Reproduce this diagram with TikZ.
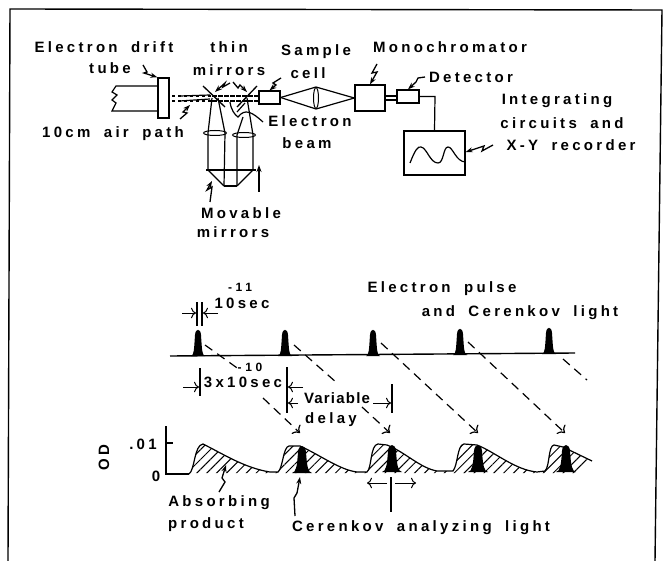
\documentclass[tikz,border=0pt]{standalone}
\usepackage{fontspec}
\setmainfont[LetterSpace=22,WordSpace=1.8]{Liberation Sans}
\usetikzlibrary{patterns.meta,arrows.meta,shapes.geometric}
\tikzset{
    lbl/.style={inner sep=0pt, font=\bfseries\fontsize{15}{15}\selectfont},
    smalllbl/.style={inner sep=0pt, font=\bfseries\fontsize{12}{12}\selectfont\addfontfeature{LetterSpace=30}},
    part/.style={draw, line width=1.3pt, rectangle, inner sep=0pt},
    wire/.style={line width=1.2pt},
    bolt/.style={line width=1.3pt, -{Stealth[length=7pt,width=5pt]}},
    dim/.style={line width=1pt, -{To[length=5pt]}},
    probe/.style={line width=1.2pt, dash pattern=on 9pt off 6pt},
    probetip/.style={probe, -{To[length=6pt]}},
    lens/.style={draw, line width=1pt, ellipse, inner sep=0pt},
    pulse/.pic={\fill (-7,0) .. controls (-4,-1) and (-4,-6) .. (-3,-21) .. controls (-2.5,-28) and (2.5,-28) .. (3,-21) .. controls (4,-6) and (4,-1) .. (7,0) -- cycle;},
    lowpulse/.pic={\fill (-10,0) .. controls (-6,-1) and (-5,-6) .. (-4,-21) .. controls (-3.5,-29) and (3.5,-29) .. (4,-21) .. controls (5,-6) and (6,-1) .. (10,0) -- cycle;}
}
\begin{document}
\begin{tikzpicture}[x=1pt, y=-1pt]
        \useasboundingbox (0,0) rectangle (663,561);
        \draw[line width=1.4pt] (8,561) -- (10,9) -- (662,10) -- (655,561);
        % apparatus
        \node[part, minimum width=11pt, minimum height=40pt] (tube) at (163.5,98) {};
        \node[part, minimum width=21pt, minimum height=13pt] (cell) at (269.5,97.5) {};
        \node[part, minimum width=30pt, minimum height=26pt] (mono) at (370,98) {};
        \node[part, minimum width=22pt, minimum height=13pt] (det) at (408,96.5) {};
        \node[part, minimum width=61pt, minimum height=44pt] (recorder) at (434.5,153) {};
        \node[lens, minimum width=5pt, minimum height=21pt] (celllens) at (316,98) {};
        \node[lens, minimum width=23pt, minimum height=5pt] (leftlens) at (215,133) {};
        \node[lens, minimum width=23pt, minimum height=5pt] (rightlens) at (244,135) {};
        \draw[wire] (tube.west |- 0,86) -- (116,86) -- (112,92) -- (117,95) -- (112,100) -- (116,103) -- (112,111) -- (tube.west |- 0,111);
        \draw[wire, dashed] (172,96) -- (cell.west |- 0,96);
        \draw[wire, dashed] (172,101) -- (cell.west |- 0,101);
        \draw[wire] (180,96) -- (210,95);
        \draw[wire] (180,101) -- (210,99);
        % thin mirrors
        \draw[line width=1.3pt] (203,86) -- (225,107);
        \draw[line width=1.3pt] (257,86) -- (237,107);
        % light through the cell
        \draw[wire] (cell.east) -- (celllens.north) -- (mono.west);
        \draw[wire] (cell.east) -- (celllens.south) -- (mono.west);
        \draw[wire] (mono.east |- 0,96) -- (det.west |- 0,96);
        \draw[wire] (mono.east |- 0,100) -- (det.west |- 0,100);
        \draw[wire] (det.east) -- (435,96.5) -- (recorder.north);
        \draw[wire] (410,163) .. controls (415,150) and (418,146) .. (421,147) .. controls (427,148) and (430,163) .. (438,163) .. controls (444,163) and (443,147) .. (448,147) .. controls (453,147) and (456,162) .. (recorder.east |- 0,162);
        % movable mirrors and beams
        \draw[wire] (212,98) -- (208,133) -- (208,170) -- (224,186);
        \draw[wire] (218,98) -- (225,133) -- (224,186);
        \draw[wire] (243,117) -- (237,135) -- (237,186);
        \draw[wire] (247,98) -- (253,135) -- (253,170) -- (237,186);
        \draw[wire] (206,170) -- (256,170);
        \draw[wire] (224,186) -- (237,186);
        \draw[wire] (230,102) .. controls (231,110) and (235,115) .. (238,117) .. controls (245,108) and (252,112) .. (263,122);
        \draw[wire] (245,103) -- (237,112);
        \draw[bolt] (259,192) -- (259,165);
        \draw[wire, dashed] (212,96) -- (256,96);
        \draw[wire, dashed] (212,101) -- (256,101);
        % labels of the apparatus
        \node[lbl] (tubelbl) at (104,47) {Electron drift};
        \node[lbl] (tubelbl2) at (110,68) {tube};
        \node[lbl] (pathlbl) at (113,134) {10cm air path};
        \node[lbl] (thinlbl) at (229,47) {thin};
        \node[lbl] (thinlbl2) at (229,70) {mirrors};
        \node[lbl] (celllbl) at (316,52) {Sample};
        \node[lbl] (celllbl2) at (308,73) {cell};
        \node[lbl] (monolbl) at (450,47) {Monochromator};
        \node[lbl] (detlbl) at (471,77) {Detector};
        \node[lbl] (reclbl) at (557,101) {Integrating};
        \node[lbl] (reclbl2) at (562,123) {circuits and};
        \node[lbl] (reclbl3) at (571,145) {X-Y recorder};
        \node[lbl] (beamlbl) at (310,121) {Electron};
        \node[lbl] (beamlbl2) at (307,143) {beam};
        \node[lbl] (movelbl) at (241,213) {Movable};
        \node[lbl] (movelbl2) at (233,232) {mirrors};
        % wavy pointers
        \draw[bolt] (143,65) -- (147,72) -- (144,73) -- (tube.north west);
        \draw[bolt] (180,119) -- (187,113) -- (183,112) -- (190,105);
        \draw[bolt] (230,83) -- (223,87) -- (225,83) -- (215,92);
        \draw[bolt] (233,82) -- (238,88) -- (240,85) -- (247,92);
        \draw[bolt] (281,78) -- (273,83) -- (276,85) -- (cell.north);
        \draw[bolt] (377,64) -- (372,73) -- (377,72) -- (mono.north);
        \draw[bolt] (425,77) -- (418,78) -- (416,82) -- (det.north);
        \draw[bolt] (493,145) -- (482,151) -- (484,146) -- (recorder.east |- 0,152);
        \draw[bolt] (210,202) -- (212,187) -- (207,190) -- (212,181);
        % electron pulses
        \draw[line width=1.4pt] (170,356) -- (575,353);
        \pic at (198,356) {pulse};
        \pic at (285,356) {pulse};
        \pic at (373,356) {pulse};
        \pic at (460,355) {pulse};
        \pic at (549,354) {pulse};
        \draw[wire] (197,302) -- (197,326);
        \draw[wire] (202,302) -- (202,326);
        \draw[dim] (182,313) -- (196,313);
        \draw[dim] (218,313) -- (203,313);
        \node[lbl] (widthlbl) at (242,303) {10sec};
        \node[smalllbl] (widthexp) at (240,287) {-11};
        \node[lbl] (pulselbl) at (442,289) {Electron pulse};
        \node[lbl] (pulselbl2) at (520,313) {and Cerenkov light};
        % delayed probe pulses
        \draw[probe] (205,345) -- (240,370);
        \draw[probetip] (263,398) -- (300,433);
        \draw[probe] (294,345) -- (337,383);
        \draw[probetip] (362,407) -- (390,433);
        \draw[probetip] (381,343) -- (478,433);
        \draw[probetip] (468,342) -- (565,433);
        \draw[probe] (563,359) -- (587,380);
        % spacings
        \draw[wire] (200,368) -- (200,396);
        \draw[wire] (287,367) -- (287,413);
        \draw[wire] (392,384) -- (392,413);
        \draw[dim] (183,387) -- (199,387);
        \draw[dim] (303,387) -- (288,387);
        \draw[dim] (298,403) -- (288,403);
        \draw[dim] (373,403) -- (391,403);
        \node[lbl] (repeatlbl) at (243,382) {3x10sec};
        \node[smalllbl] (repeatexp) at (250,367) {-10};
        \node[lbl] (delaylbl) at (337,398) {\addfontfeature{LetterSpace=8}Variable};
        \node[lbl] (delaylbl2) at (331,420) {delay};
        % absorption trace
        \draw[wire] (166,426) -- (166,474) -- (189,474);
        \draw[wire] (166,443) -- (173,443);
        \node[lbl] (odlbl) at (143,444) {.01};
        \node[lbl] (zerolbl) at (156,476) {0};
        \node[lbl, rotate=90] (axislbl) at (104,458) {OD};
        \fill[pattern={Lines[angle=45,distance=7pt,line width=1pt]}] (189,473) .. controls (195,470) and (194,445) .. (203,444) .. controls (225,455) and (245,468) .. (270,472) -- (278,472) .. controls (283,468) and (283,447) .. (289,446) -- (300,446) .. controls (320,455) and (340,470) .. (357,472) -- (367,472) .. controls (372,468) and (370,445) .. (378,444) -- (387,445) .. controls (405,452) and (420,468) .. (437,471) -- (453,471) .. controls (458,465) and (457,445) .. (464,444) -- (477,445) .. controls (495,452) and (515,470) .. (537,472) -- (545,471) .. controls (550,466) and (548,446) .. (554,445) -- (563,447) -- (592,461) -- (580,473) -- cycle;
        \draw[wire] (189,474) .. controls (195,470) and (194,445) .. (203,444) .. controls (225,455) and (245,468) .. (270,472) -- (278,472) .. controls (283,468) and (283,447) .. (289,446) -- (300,446) .. controls (320,455) and (340,470) .. (357,472) -- (367,472) .. controls (372,468) and (370,445) .. (378,444) -- (387,445) .. controls (405,452) and (420,468) .. (437,471) -- (453,471) .. controls (458,465) and (457,445) .. (464,444) -- (477,445) .. controls (495,452) and (515,470) .. (537,472) -- (545,471) .. controls (550,466) and (548,446) .. (554,445) -- (563,447) -- (592,461);
        \pic at (302,473) {lowpulse};
        \pic at (392,472) {lowpulse};
        \pic at (478,472) {lowpulse};
        \pic at (566,472) {lowpulse};
        % analyzing light
        \draw[wire] (391,477) -- (391,512);
        \draw[dim] (387,483) -- (367,483);
        \draw[dim] (395,483) -- (416,483);
        \node[lbl] (absorblbl) at (219,503) {Absorbing};
        \node[lbl] (absorblbl2) at (206,525) {product};
        \node[lbl] (analyzelbl) at (421,528) {Cerenkov analyzing light};
        \draw[bolt] (219,492) -- (225,482) -- (222,478) -- (226,465);
        \draw[bolt] (295,516) -- (294,498) -- (297,493) -- (300,477);
\end{tikzpicture}
\end{document}
